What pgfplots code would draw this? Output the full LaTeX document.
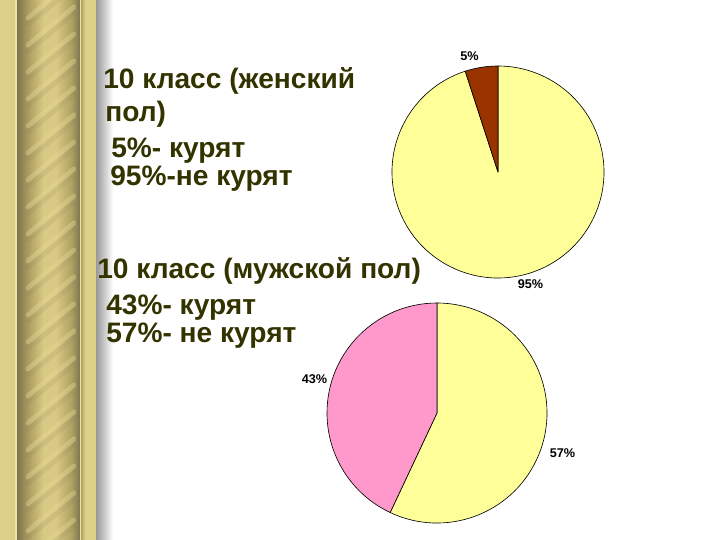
\documentclass[border=0pt]{standalone}
\usepackage{pgfplots}
\pgfplotsset{compat=1.18}
\usepackage{pgfplotstable}
\usepackage{fontspec}
\setmainfont{Liberation Sans}
\definecolor{pieyellow}{HTML}{FFFF99}
\definecolor{piebrown}{HTML}{993300}
\definecolor{piepink}{HTML}{FF99CC}
\definecolor{txt}{HTML}{333300}
\definecolor{gold}{HTML}{DCCF87}
\definecolor{goldlt}{HTML}{EFE4A6}
\definecolor{ropedark}{HTML}{7E7450}
\definecolor{ropemid}{HTML}{B0A263}
\definecolor{ropelight}{HTML}{D8C984}
\definecolor{stripe}{HTML}{E8DA96}
\pgfdeclarehorizontalshading{rope}{100bp}{color(0bp)=(ropedark); color(25bp)=(ropedark); color(35bp)=(ropemid); color(46bp)=(ropelight); color(56bp)=(ropelight); color(68bp)=(ropemid); color(75bp)=(ropedark); color(100bp)=(ropedark)}
\pgfdeclarehorizontalshading{leftband}{100bp}{color(0bp)=(gold); color(25bp)=(gold); color(65bp)=(gold); color(75bp)=(ropelight); color(100bp)=(ropelight)}

\pgfplotstableread{
group smoke nosmoke
female 5 95
male 43 57
}\pietable

\newcommand\slice[6]{% cx, cy, r(cm), start percent, percent, colour
  \pgfmathsetmacro\sA{90+3.6*(#4)}%
  \pgfmathsetmacro\sB{90+3.6*((#4)+(#5))}%
  \edef\tmp{\noexpand\filldraw[fill=#6,draw=black,line width=0.45pt,line join=round] (axis cs:#1,#2) -- ++(\sA:#3cm) arc[start angle=\sA,end angle=\sB,radius=#3cm] -- cycle;}%
  \tmp}

\begin{document}
\begin{tikzpicture}
% background and decorative border (pixel units)
\begin{scope}[x=0.025cm,y=-0.025cm,yshift=13.5cm]
\fill[white] (0,0) rectangle (720,540);
\shade[left color=gray!85,right color=white] (95,0) rectangle (113,540);
\fill[gold] (0,0) rectangle (96,540);
\shade[shading=leftband] (0,0) rectangle (16,540);
\shade[shading=rope] (17,0) rectangle (80,540);
\begin{scope}
\clip (24,0) rectangle (76,540);
\foreach \y in {-20,7,...,580}{
  \draw[ropedark,opacity=0.12,line width=4pt,line cap=round] (28,\y+44) -- (74,\y+6);
  \draw[stripe,opacity=0.38,line width=3.5pt,line cap=round] (28,\y+38) -- (74,\y);
}
\end{scope}
\fill[goldlt] (15.5,0) rectangle (16.8,540);
\fill[goldlt] (79.8,0) rectangle (81.2,540);
\shade[left color=ropemid,right color=gold] (81.2,0) rectangle (85,540);
\end{scope}

\pgfplotstablegetelem{0}{smoke}\of\pietable \let\fS\pgfplotsretval
\pgfplotstablegetelem{0}{nosmoke}\of\pietable \let\fN\pgfplotsretval
\pgfplotstablegetelem{1}{smoke}\of\pietable \let\mS\pgfplotsretval
\pgfplotstablegetelem{1}{nosmoke}\of\pietable \let\mN\pgfplotsretval

\begin{axis}[at={(0,0)},anchor=south west,width=18cm,height=13.5cm,scale only axis,
  xmin=0,xmax=720,ymin=0,ymax=540,y dir=reverse,hide axis,clip=false]
% female pie
\slice{498}{172}{2.65}{\fS}{\fN}{pieyellow}
\slice{498}{172}{2.65}{0}{\fS}{piebrown}
% male pie
\slice{437}{413}{2.75}{\mS}{\mN}{pieyellow}
\slice{437}{413}{2.75}{0}{\mS}{piepink}
% pie labels
\begin{scope}[every node/.style={anchor=base,inner sep=0pt,font=\bfseries\fontsize{9}{10}\selectfont}]
\node at (axis cs:469.5,60) {5\%};
\node at (axis cs:530.5,288) {95\%};
\node at (axis cs:314.5,383) {43\%};
\node at (axis cs:562.5,457) {57\%};
\end{scope}
% text
\begin{scope}[every node/.style={anchor=base west,inner sep=0pt,text=txt,font=\bfseries\fontsize{20}{22}\selectfont}]
\node at (axis cs:103,88) {10 класс (женский};
\node at (axis cs:105,121.5) {пол)};
\node at (axis cs:111,157) {5\%- курят};
\node at (axis cs:110,185) {95\%-не курят};
\node at (axis cs:97,278) {10 класс (мужской пол)};
\node at (axis cs:106,314) {43\%- курят};
\node at (axis cs:106,342) {57\%- не курят};
\end{scope}
\end{axis}
\pgfresetboundingbox
\useasboundingbox (0,0) rectangle (18cm,13.5cm);
\end{tikzpicture}
\end{document}
